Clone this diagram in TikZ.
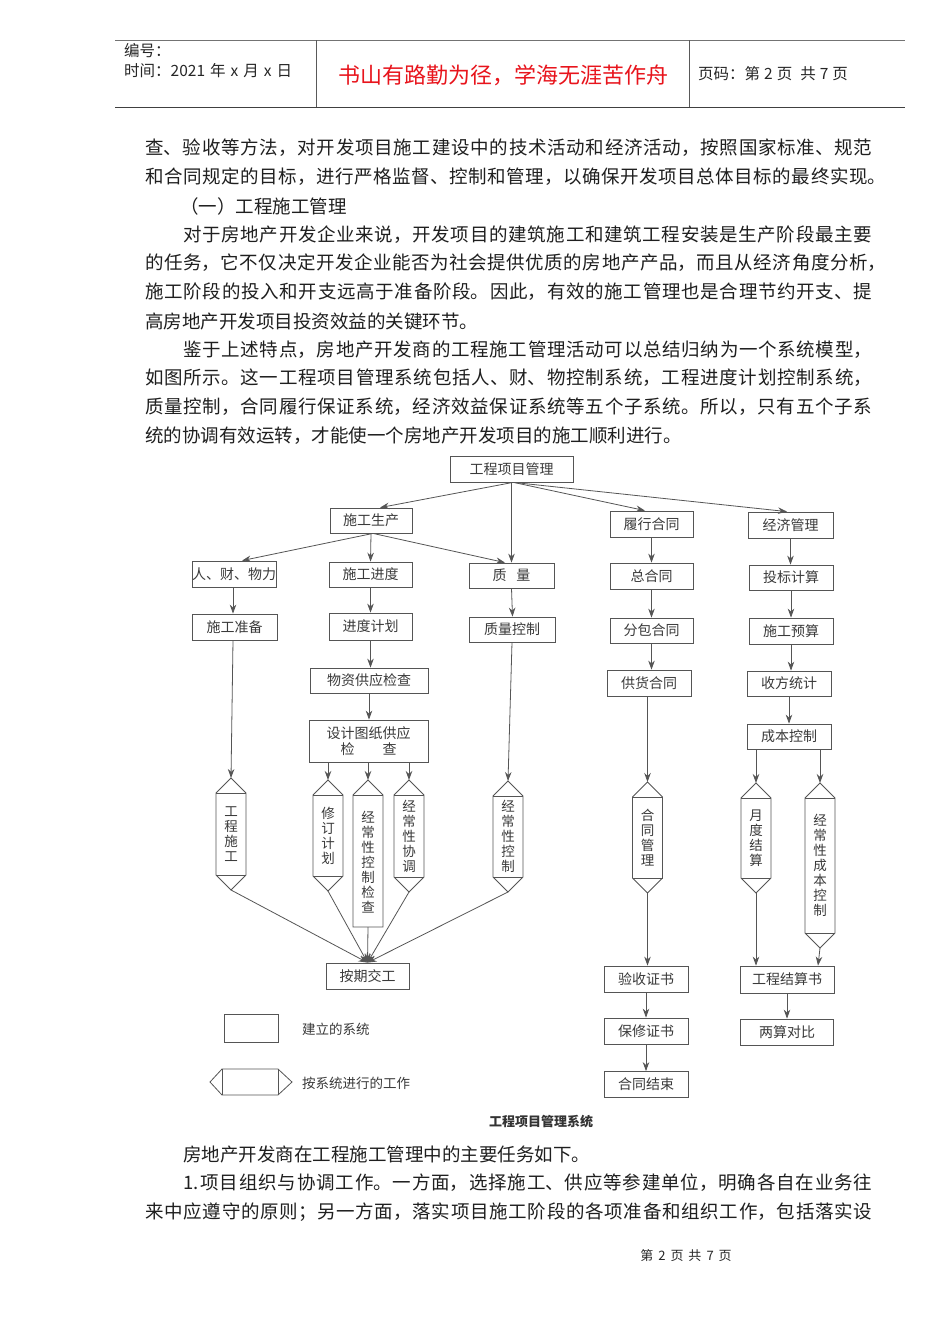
\documentclass[tikz,border=0pt]{standalone}
\usepackage{fontspec}
\setmainfont{Noto Sans CJK SC}
\usetikzlibrary{arrows.meta,calc}
\XeTeXlinebreaklocale "zh"
\XeTeXlinebreakskip=0pt plus 6pt
\definecolor{lc}{HTML}{555555}
\definecolor{tc}{HTML}{3A3A3A}
\definecolor{redt}{HTML}{E8141C}
\newcommand\jline[2]{\parbox[t]{#1}{\parfillskip=0pt\noindent #2}}
\newcommand\hexn[5]{%
  \draw[ln] (#2-15,#3+15) -- (#2,#3) -- (#2+15,#3+15) -- (#2+15,#4-15) -- (#2,#4) -- (#2-15,#4-15) -- cycle;
  \draw[ln] (#2-15,#3+15) -- (#2+15,#3+15) (#2-15,#4-15) -- (#2+15,#4-15);
  \node[vlab] (#1) at ({#2},{(#3+#4)/2}) {#5};
  \coordinate (#1-t) at (#2,#3);
  \coordinate (#1-b) at (#2,#4);
}
\begin{document}
\begin{tikzpicture}[x=1pt,y=-1pt,
  box/.style={draw=lc, line width=0.8pt, inner sep=0pt, text=tc, font=\fontsize{14}{17}\selectfont, minimum height=26pt},
  arr/.style={draw=lc, line width=0.8pt, -{Stealth[length=9pt,width=6.5pt]}},
  ln/.style={draw=lc, line width=0.8pt},
  vlab/.style={text=tc, font=\fontsize{13.5}{15}\selectfont, align=center, inner sep=0pt},
  body/.style={anchor=west, inner sep=0pt, text=black!88, font=\fontsize{18.5}{22}\selectfont},
  hdr/.style={anchor=west, inner sep=0pt, text=black!85, font=\fontsize{15.5}{18}\selectfont},
  leg/.style={anchor=west, inner sep=0pt, text=tc, font=\fontsize{13.5}{16}\selectfont}
]
\useasboundingbox (0,0) rectangle (950,1344);
\fill[white] (0,0) rectangle (950,1344);

% ---------- header ----------
\draw[draw=black!55, line width=1pt] (115,40) -- (905,40);
\draw[draw=black!75, line width=1pt] (115,107) -- (905,107);
\draw[draw=black!65, line width=1pt] (316,40) -- (316,107);
\draw[draw=black!65, line width=1pt] (689,40) -- (689,107);
\node[hdr] (h-no) at (124,51) {编号：};
\node[hdr] (h-time) at (124,71) {时间：2021\hspace{5pt}年\hspace{5pt}x\hspace{5pt}月\hspace{5pt}x\hspace{5pt}日};
\node[inner sep=0pt, text=redt, font=\fontsize{22}{26}\selectfont] (h-title) at (503,75) {书山有路勤为径，学海无涯苦作舟};
\node[hdr] (h-page) at (698,74) {页码：第\hspace{4pt}2\hspace{4pt}页\hspace{8pt}共\hspace{4pt}7\hspace{4pt}页};

% ---------- body text ----------
\node[body] (l1) at (145,148) {\jline{727pt}{查、验收等方法，对开发项目施工建设中的技术活动和经济活动，按照国家标准、规范}};
\node[body] (l2) at (145,177) {\jline{741pt}{和合同规定的目标，进行严格监督、控制和管理，以确保开发项目总体目标的最终实现。}};
\node[body] (l3) at (180,206) {（一）工程施工管理};
\node[body] (l4) at (183,235) {\jline{689pt}{对于房地产开发企业来说，开发项目的建筑施工和建筑工程安装是生产阶段最主要}};
\node[body] (l5) at (145,263) {\jline{741pt}{的任务，它不仅决定开发企业能否为社会提供优质的房地产产品，而且从经济角度分析，}};
\node[body] (l6) at (145,292) {\jline{727pt}{施工阶段的投入和开支远高于准备阶段。因此，有效的施工管理也是合理节约开支、提}};
\node[body] (l7) at (145,321) {高房地产开发项目投资效益的关键环节。};
\node[body] (l8) at (183,350) {\jline{689pt}{鉴于上述特点，房地产开发商的工程施工管理活动可以总结归纳为一个系统模型，}};
\node[body] (l9) at (145,378) {\jline{727pt}{如图所示。这一工程项目管理系统包括人、财、物控制系统，工程进度计划控制系统，}};
\node[body] (l10) at (145,407) {\jline{727pt}{质量控制，合同履行保证系统，经济效益保证系统等五个子系统。所以，只有五个子系}};
\node[body] (l11) at (145,436) {统的协调有效运转，才能使一个房地产开发项目的施工顺利进行。};

\node[body] (p1) at (183,1154) {房地产开发商在工程施工管理中的主要任务如下。};
\node[body] (p2) at (183,1183) {\jline{689pt}{1.\hspace{2pt}项目组织与协调工作。一方面，选择施工、供应等参建单位，明确各自在业务往}};
\node[body] (p3) at (145,1212) {\jline{727pt}{来中应遵守的原则；另一方面，落实项目施工阶段的各项准备和组织工作，包括落实设}};

\node[inner sep=0pt, text=black!85, font=\fontsize{13}{16}\selectfont] (foot) at (686,1256) {第\hspace{5pt}2\hspace{5pt}页\hspace{5pt}共\hspace{5pt}7\hspace{5pt}页};

% ---------- diagram boxes ----------
\node[box, minimum width=123pt] (top) at (511.5,469) {工程项目管理};
\node[box, minimum width=82pt, minimum height=25pt] (sg) at (371,520.5) {施工生产};
\node[box, minimum width=84pt] (rc) at (234,574) {人、财、物力};
\node[box, minimum width=83pt, minimum height=25pt] (jd) at (370.5,574.5) {施工进度};
\node[box, minimum width=85pt, minimum height=25pt] (zl) at (511.5,575.5) {质\hspace{0.7em}量};
\node[box, minimum width=85pt] (zb) at (234.5,627) {施工准备};
\node[box, minimum width=83pt, minimum height=27pt] (jh) at (370.5,626.5) {进度计划};
\node[box, minimum width=86pt, minimum height=25pt] (zk) at (512,629.5) {质量控制};
\node[box, minimum width=118pt, minimum height=25pt] (wz) at (369,680.5) {物资供应检查};
\node[box, minimum width=119pt, minimum height=42pt, align=center] (sj) at (368.5,741) {设计图纸供应\\[-1pt]检　　查};
\node[box, minimum width=83pt] (ag) at (367.5,976) {按期交工};

\node[box, minimum width=83pt] (lx) at (651.5,524) {履行合同};
\node[box, minimum width=83pt] (zh) at (651.5,576) {总合同};
\node[box, minimum width=83pt, minimum height=25pt] (fb) at (651.5,630.5) {分包合同};
\node[box, minimum width=84pt] (gh) at (649,683) {供货合同};
\node[box, minimum width=84pt] (ys) at (646,979) {验收证书};
\node[box, minimum width=84pt] (bx) at (646,1031) {保修证书};
\node[box, minimum width=84pt] (js) at (646,1084.5) {合同结束};

\node[box, minimum width=85pt] (jj) at (790.5,525) {经济管理};
\node[box, minimum width=84pt, minimum height=25pt] (tb) at (791,577.5) {投标计算};
\node[box, minimum width=84pt] (yu) at (791,631) {施工预算};
\node[box, minimum width=84pt, minimum height=25pt] (sf) at (789,683.5) {收方统计};
\node[box, minimum width=84pt, minimum height=25pt] (cb) at (789,736.5) {成本控制};
\node[box, minimum width=94pt, minimum height=27pt] (gj) at (787,979.5) {工程结算书};
\node[box, minimum width=93pt] (ld) at (787,1032) {两算对比};

% ---------- hexagonal work nodes ----------
\hexn{h1}{231}{778}{890}{工\\程\\施\\工}
\hexn{h2}{328}{780}{891}{修\\订\\计\\划}
\hexn{h4}{409}{780}{892}{经\\常\\性\\协\\调}
\hexn{h5}{508}{781}{892}{经\\常\\性\\控\\制}
\hexn{h6}{647.5}{782}{893}{合\\同\\管\\理}
\hexn{h7}{756}{783}{893}{月\\度\\结\\算}
\hexn{h8}{820}{783}{948}{经\\常\\性\\成\\本\\控\\制}
% pointed top, flat bottom
\draw[ln] (353,795) -- (368,780) -- (383,795) -- (383,927) -- (353,927) -- cycle;
\draw[ln] (353,795) -- (383,795);
\node[vlab] (h3) at (368,862) {经\\常\\性\\控\\制\\检\\查};
\coordinate (h3-t) at (368,780);
\coordinate (h3-b) at (368,927);

% ---------- connectors ----------
\draw[arr] ([xshift=1.5pt]top.south) -- ([xshift=9pt]sg.north);
\draw[arr] (top.south) -- (zl.north);
\draw[arr] ([xshift=2pt]top.south) -- ([xshift=-6.5pt]lx.north);
\draw[arr] ([xshift=2pt]top.south) -- ([xshift=-3.5pt]jj.north);

\draw[arr] ([xshift=2pt]sg.south) -- ([xshift=8pt]rc.north);
\draw[arr] (sg.south) -- (jd.north);
\draw[arr] ([xshift=2pt]sg.south) -- ([xshift=-6.5pt]zl.north);

\draw[arr] ([xshift=-1pt]rc.south) -- ([xshift=-1.5pt]zb.north);
\draw[arr] ([xshift=-1.5pt]zb.south) -- (h1-t);
\draw[arr] (jd.south) -- (jh.north);
\draw[arr] (jh.south) -- ([xshift=1.5pt]wz.north);
\draw[arr] (wz.south) -- ([xshift=0.5pt]sj.north);
\draw[arr] (sj.south -| h2-t) -- (h2-t);
\draw[arr] (sj.south -| h3-t) -- (h3-t);
\draw[arr] (sj.south -| h4-t) -- (h4-t);
\draw[arr] (zl.south) -- ([xshift=0.5pt]zk.north);
\draw[arr] (zk.south) -- (h5-t);

\draw[arr] (h1-b) -- (ag.north);
\draw[arr] (h2-b) -- (ag.north);
\draw[arr] (h3-b) -- (ag.north);
\draw[arr] (h4-b) -- (ag.north);
\draw[arr] (h5-b) -- (ag.north);

\draw[arr] (lx.south) -- (zh.north);
\draw[arr] (zh.south) -- (fb.north);
\draw[arr] (fb.south) -- ([xshift=2.5pt]gh.north);
\draw[arr] (gh.south -| h6-t) -- (h6-t);
\draw[arr] (h6-b) -- (h6-b |- ys.north);
\draw[arr] (ys.south) -- (bx.north);
\draw[arr] (bx.south) -- (js.north);

\draw[arr] (jj.south) -- ([xshift=-0.5pt]tb.north);
\draw[arr] (tb.south) -- (yu.north);
\draw[arr] (yu.south) -- ([xshift=2pt]sf.north);
\draw[arr] (sf.south) -- (cb.north);
\draw[arr] (cb.south -| h7-t) -- (h7-t);
\draw[arr] (cb.south -| h8-t) -- (h8-t);
\draw[arr] (h7-b) -- (h7-b |- gj.north);
\draw[arr] (h8-b) -- ([xshift=-2pt]h8-b |- gj.north);
\draw[arr] (gj.south) -- (ld.north);

% ---------- legend ----------
\node[draw=lc, line width=0.8pt, minimum width=54pt, minimum height=28pt, inner sep=0pt] (lg1) at (251,1028) {};
\node[leg] (lg1t) at (302,1029) {建立的系统};
\draw[ln] (210,1082) -- (222,1069) -- (278,1069) -- (292,1082) -- (278,1095) -- (222,1095) -- cycle;
\draw[ln] (222,1069) -- (222,1095) (278,1069) -- (278,1095);
\coordinate (lg2) at (292,1082);
\node[leg] (lg2t) at (302,1083) {按系统进行的工作};

% ---------- caption ----------
\node[inner sep=0pt, text=black!80, font=\fontsize{13}{16}\selectfont\bfseries] (cap) at (541,1122) {工程项目管理系统};
\end{tikzpicture}
\end{document}
